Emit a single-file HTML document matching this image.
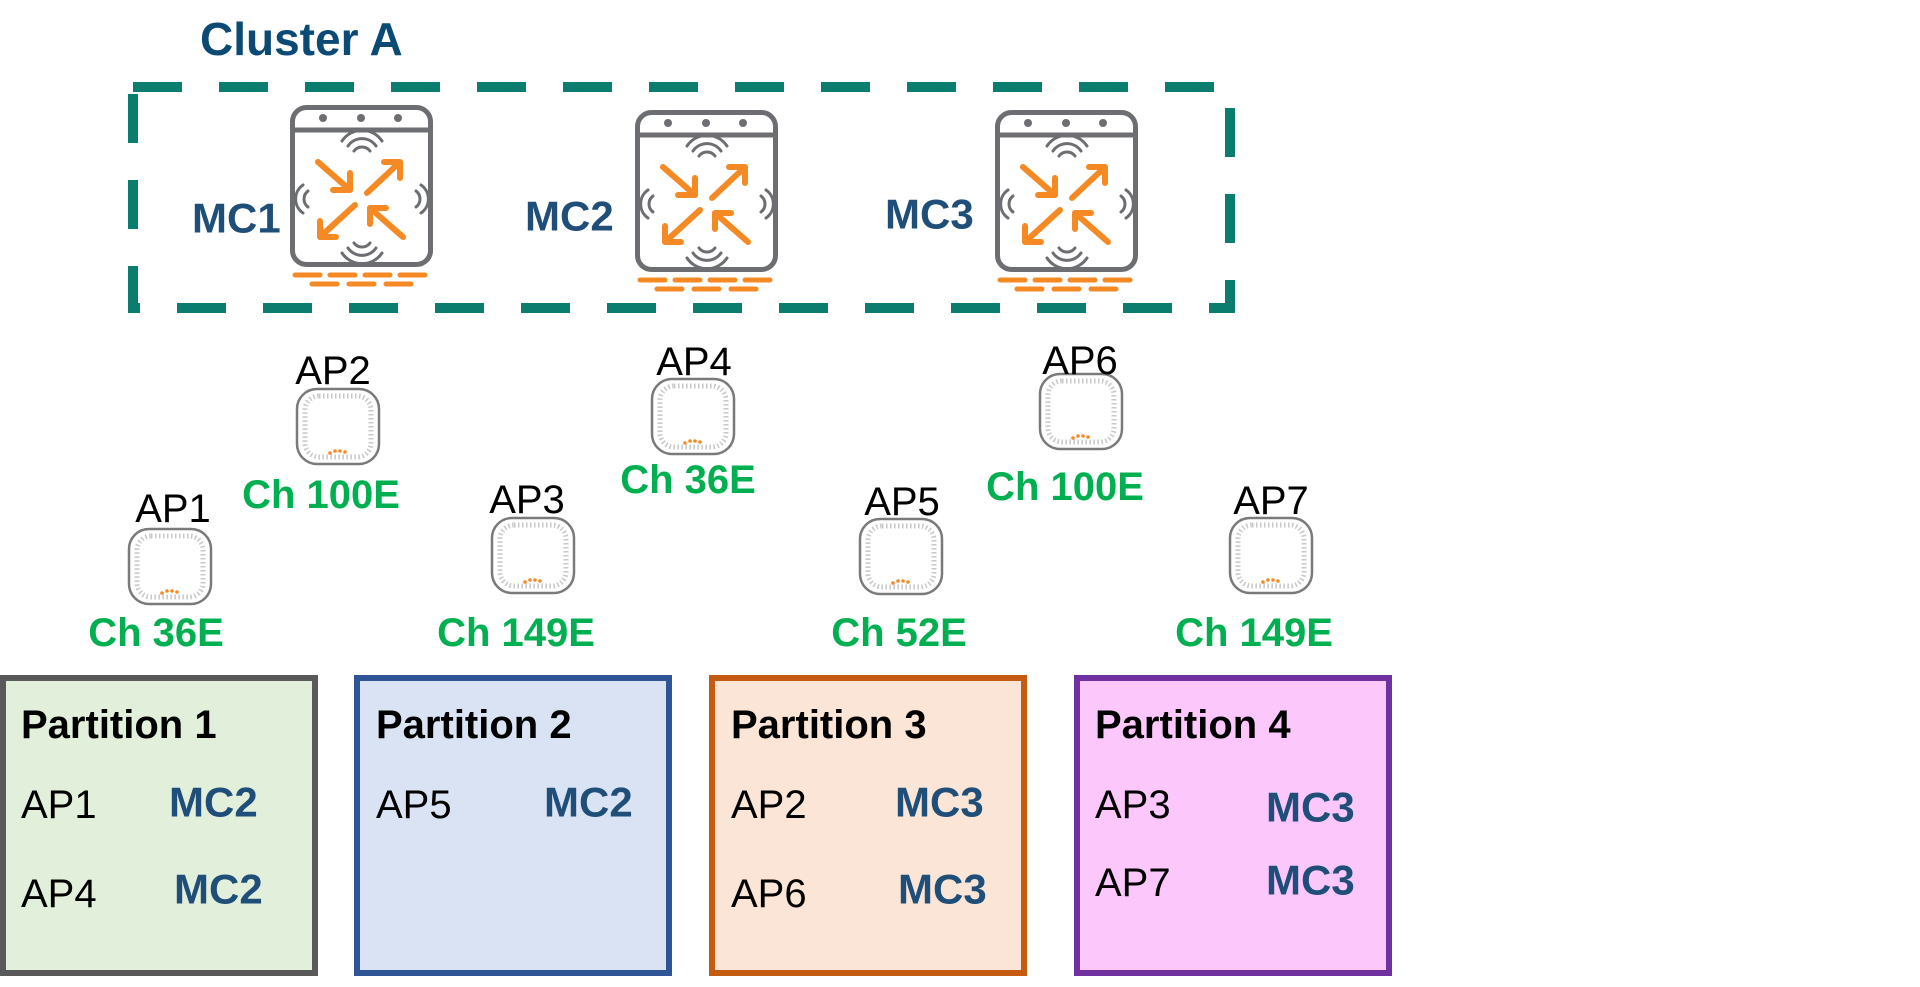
<!DOCTYPE html>
<html><head><meta charset="utf-8"><style>
html,body{margin:0;padding:0;background:#fff;width:1920px;height:987px;overflow:hidden}
svg{display:block}
text{font-family:"Liberation Sans",sans-serif;dominant-baseline:central}
.mc{font-weight:bold;font-size:42px;fill:#1f4e79}
.ap{font-size:40px;fill:#000}
.ch{font-weight:bold;font-size:40px;fill:#00b050}
.pt{font-weight:bold;font-size:40px;fill:#000}
</style></head><body>
<svg width="1920" height="987" viewBox="0 0 1920 987">
<defs>
<g id="mcicon">
  <rect x="2.5" y="2.5" width="138" height="157" rx="14" fill="#fff" stroke="#6d6e71" stroke-width="5"/>
  <line x1="2.5" y1="25" x2="140.5" y2="25" stroke="#6d6e71" stroke-width="5"/>
  <circle cx="33" cy="13" r="4" fill="#6d6e71"/><circle cx="71" cy="13" r="4" fill="#6d6e71"/><circle cx="108" cy="13" r="4" fill="#6d6e71"/>
  <g fill="none" stroke="#6d6e71" stroke-width="3" stroke-linecap="round">
    <path d="M64,46 A10,10 0 0 1 80,46"/><path d="M58,41 A17,17 0 0 1 86,41"/><path d="M52,36 A24,24 0 0 1 92,36"/>
    <path d="M64,138 A10,10 0 0 0 80,138"/><path d="M58,143 A17,17 0 0 0 86,143"/><path d="M52,148 A24,24 0 0 0 92,148"/>
    <path d="M18,86 A10,10 0 0 0 18,102"/><path d="M13,80 A17,17 0 0 0 13,108"/>
    <path d="M126,86 A10,10 0 0 1 126,102"/><path d="M131,80 A17,17 0 0 1 131,108"/>
  </g>
  <g fill="none" stroke="#f58a24" stroke-width="6" stroke-linecap="round" stroke-linejoin="round">
    <path d="M28,57 L60,85 M60,68 L60,85 L43,85"/>
    <path d="M77,88 L110,57 M94,57 L110,57 L110,73"/>
    <path d="M65,100 L30,132 M30,116 L30,132 L46,132"/>
    <path d="M113,132 L80,103 M96,103 L80,103 L80,119"/>
  </g>
  <g stroke="#f58a24" stroke-width="5" stroke-linecap="round">
    <line x1="5" y1="170" x2="30" y2="170"/><line x1="40" y1="170" x2="65" y2="170"/><line x1="75" y1="170" x2="100" y2="170"/><line x1="110" y1="170" x2="135" y2="170"/>
    <line x1="22" y1="179" x2="47" y2="179"/><line x1="59" y1="179" x2="84" y2="179"/><line x1="96" y1="179" x2="121" y2="179"/>
  </g>
</g>
<g id="apicon">
  <rect x="2" y="2" width="82" height="75" rx="20" fill="#fff" stroke="#7a7a7a" stroke-width="2.5"/>
  <rect x="10" y="9" width="66" height="61" rx="14" fill="none" stroke="#c8c8c8" stroke-width="5" stroke-dasharray="1.5 2.5"/>
  <g fill="#f58a24"><circle cx="35" cy="66" r="1.8"/><circle cx="40" cy="64" r="1.8"/><circle cx="45" cy="64" r="1.8"/><circle cx="50" cy="65" r="1.8"/></g>
</g>
</defs>

<text x="200" y="39" style="font-weight:bold;font-size:46px;fill:#0b4a75">Cluster A</text>
<rect x="133" y="87" width="1097" height="221" fill="none" stroke="#0a7d6e" stroke-width="10" stroke-dasharray="49 37"/>

<use href="#mcicon" x="290" y="105"/>
<use href="#mcicon" x="635" y="110"/>
<use href="#mcicon" x="995" y="110"/>
<text class="mc" x="192" y="218">MC1</text>
<text class="mc" x="525" y="216">MC2</text>
<text class="mc" x="885" y="214">MC3</text>

<use href="#apicon" x="127" y="527"/>
<use href="#apicon" x="295" y="387"/>
<use href="#apicon" x="490" y="516"/>
<use href="#apicon" x="650" y="377"/>
<use href="#apicon" x="858" y="517"/>
<use href="#apicon" x="1038" y="372"/>
<use href="#apicon" x="1228" y="516"/>

<g text-anchor="middle">
<text class="ap" x="173" y="509">AP1</text>
<text class="ap" x="333" y="371">AP2</text>
<text class="ap" x="527" y="500">AP3</text>
<text class="ap" x="694" y="362">AP4</text>
<text class="ap" x="902" y="502">AP5</text>
<text class="ap" x="1080" y="361">AP6</text>
<text class="ap" x="1271" y="501">AP7</text>
<text class="ch" x="156" y="633">Ch 36E</text>
<text class="ch" x="321" y="495">Ch 100E</text>
<text class="ch" x="516" y="633">Ch 149E</text>
<text class="ch" x="688" y="480">Ch 36E</text>
<text class="ch" x="899" y="633">Ch 52E</text>
<text class="ch" x="1065" y="487">Ch 100E</text>
<text class="ch" x="1254" y="633">Ch 149E</text>
</g>

<rect x="3" y="678" width="312" height="295" fill="#e2efda" stroke="#595959" stroke-width="6"/>
<rect x="357" y="678" width="312" height="295" fill="#dae3f3" stroke="#2f5597" stroke-width="6"/>
<rect x="712" y="678" width="312" height="295" fill="#fbe5d6" stroke="#c55a11" stroke-width="6"/>
<rect x="1077" y="678" width="312" height="295" fill="#fcc8fc" stroke="#7030a0" stroke-width="6"/>

<text class="pt" x="21" y="725">Partition 1</text>
<text class="ap" x="21" y="805">AP1</text><text class="mc" x="169" y="802">MC2</text>
<text class="ap" x="21" y="894">AP4</text><text class="mc" x="174" y="889">MC2</text>

<text class="pt" x="376" y="725">Partition 2</text>
<text class="ap" x="376" y="805">AP5</text><text class="mc" x="544" y="802">MC2</text>

<text class="pt" x="731" y="725">Partition 3</text>
<text class="ap" x="731" y="805">AP2</text><text class="mc" x="895" y="802">MC3</text>
<text class="ap" x="731" y="894">AP6</text><text class="mc" x="898" y="889">MC3</text>

<text class="pt" x="1095" y="725">Partition 4</text>
<text class="ap" x="1095" y="805">AP3</text><text class="mc" x="1266" y="807">MC3</text>
<text class="ap" x="1095" y="883">AP7</text><text class="mc" x="1266" y="880">MC3</text>
</svg>
</body></html>
